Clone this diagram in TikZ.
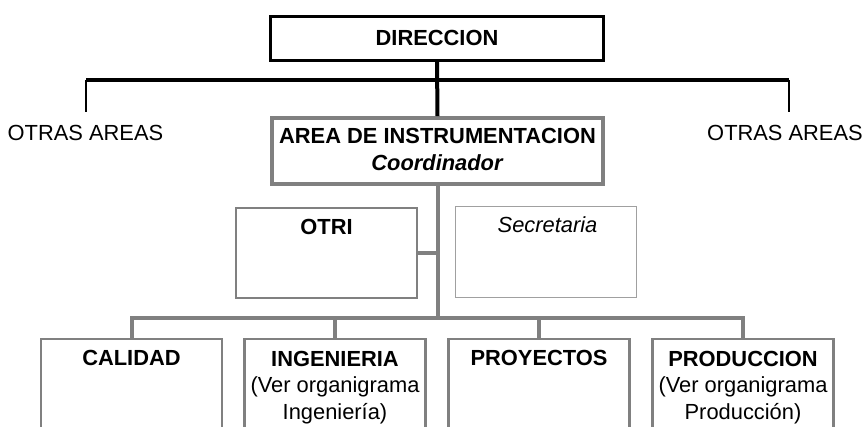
\documentclass[tikz,border=0pt]{standalone}
\usepackage{fontspec}
\setmainfont{Liberation Sans}
\definecolor{lineg}{RGB}{128,128,128}
\definecolor{lightg}{RGB}{160,160,160}
\newcommand\fsz{\fontsize{16.4}{19.8}\selectfont}
\begin{document}
\begin{tikzpicture}[x=0.75pt,y=-0.75pt,
  txt/.style={inner sep=0pt, font=\fsz, align=center},
  topbox/.style={draw=black, line width=2.25pt, inner sep=0pt, minimum width=249.75pt, minimum height=33pt},
  areabox/.style={draw=lineg, line width=2.8pt, inner sep=0pt, minimum width=248.25pt, minimum height=49.5pt},
  midbox/.style={draw=lineg, line width=2.1pt, inner sep=0pt, minimum width=135.75pt, minimum height=67.5pt},
  secbox/.style={draw=lightg, line width=1.1pt, inner sep=0pt, minimum width=135.4pt, minimum height=68pt},
  lowbox/.style={draw=lineg, line width=2.1pt, inner sep=0pt, minimum width=135.75pt, minimum height=75pt},
  blackline/.style={draw=black, line width=2.6pt},
  thinline/.style={draw=black, line width=0.8pt},
  grayline/.style={draw=lineg, line width=3pt}
]
\useasboundingbox (0,0) rectangle (865,426);
\clip (0,0) rectangle (865,426);
\fill[white] (0,0) rectangle (865,426);

% boxes
\node[topbox] (dir) at (437,38.5) {};
\node[areabox] (area) at (437.5,151) {};
\node[midbox] (otri) at (326.5,253) {};
\node[secbox] (sec) at (546,252) {};
\node[lowbox] (cal) at (131.5,389) {};
\node[lowbox] (ing) at (335,389) {};
\node[lowbox] (proy) at (539,389) {};
\node[lowbox] (prod) at (743,389) {};

% texts
\node[txt, anchor=base, font=\fsz\bfseries] (dirt) at (437,45) {DIRECCION};
\node[txt, anchor=base] (otl) at (85.5,140) {OTRAS AREAS};
\node[txt, anchor=base] (otr) at (785,140) {OTRAS AREAS};
\node[txt, anchor=north, font=\fontsize{16.4}{20}\selectfont\bfseries] (areat) at (437.5,128.3) {AREA DE INSTRUMENTACION\\\textit{Coordinador}};
\node[txt, anchor=base, font=\fsz\bfseries] (otrit) at (326.5,234) {OTRI};
\node[txt, anchor=base, font=\fsz\itshape] (sect) at (547.5,232.5) {Secretaria};
\node[txt, anchor=base, font=\fsz\bfseries] (calt) at (131.5,365) {CALIDAD};
\node[txt, anchor=north] (ingt) at (335,350.8) {\textbf{INGENIERIA}\\(Ver organigrama\\Ingeniería)};
\node[txt, anchor=base, font=\fsz\bfseries] (proyt) at (539,365) {PROYECTOS};
\node[txt, anchor=north] (prodt) at (743,350.8) {\textbf{PRODUCCION}\\(Ver organigrama\\Producción)};

% black connectors
\coordinate (hl) at (86,80);
\coordinate (hr) at (789,80);
\coordinate (dl) at (86,112);
\coordinate (dr) at (789,112);
\draw[blackline] (hl) -- (hr);
\draw[thinline] (hl) -- (dl);
\draw[thinline] (hr) -- (dr);
\draw[black, line width=3pt] (dir.south) -- (area.north);

% gray connectors
\coordinate (jn) at (437.5,318);
\coordinate (jo) at (437.5,253);
\draw[grayline] (area.south) -- (jn);
\draw[grayline] (otri.east) -- (jo);
\draw[grayline, line join=miter] (cal.north) |- (jn) -| (prod.north);
\draw[grayline] (ing.north) -- (ing.north |- jn);
\draw[grayline] (proy.north) -- (proy.north |- jn);
\end{tikzpicture}
\end{document}
